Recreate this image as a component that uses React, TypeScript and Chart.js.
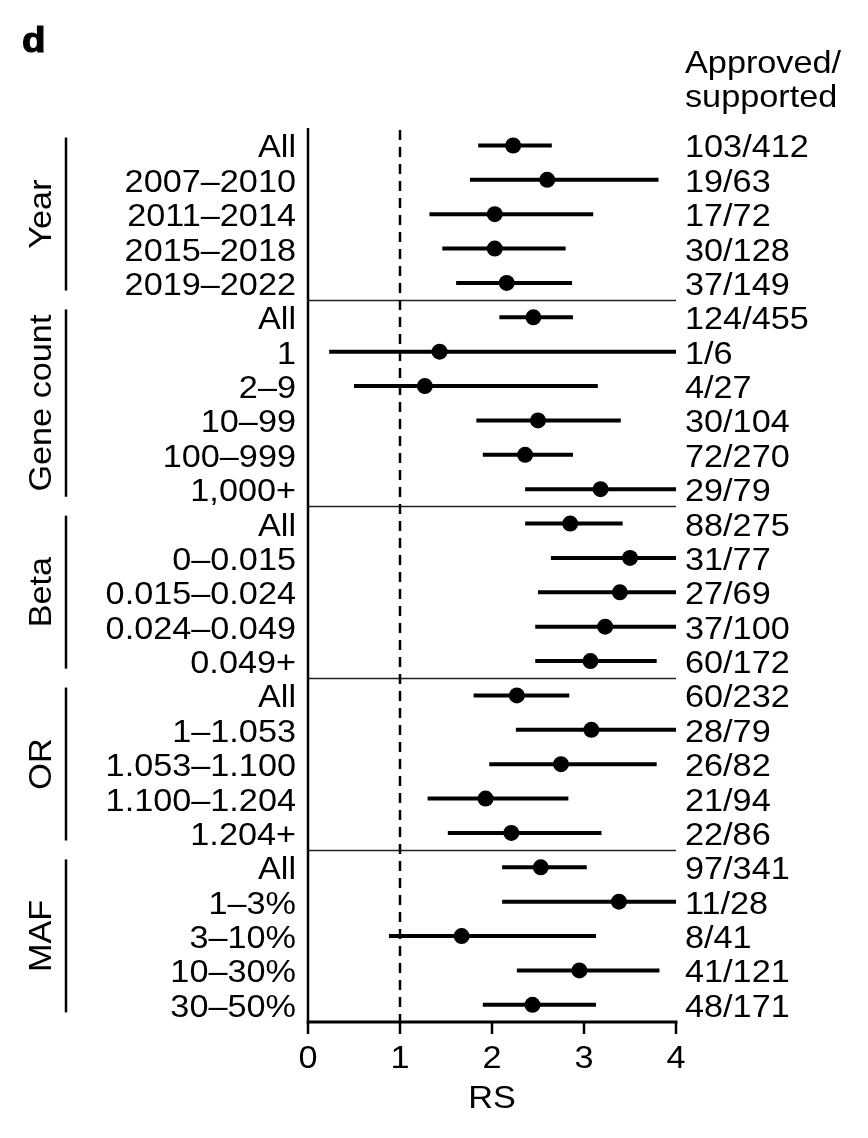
import React, { useEffect, useRef } from "react";
import { Chart, registerables } from "chart.js";

Chart.register(...registerables);

const groupNames = ["Year", "Gene count", "Beta", "OR", "MAF"];
const groupSizes = [5, 6, 5, 5, 5];

const rowLabels = [
  "All", "2007–2010", "2011–2014", "2015–2018", "2019–2022",
  "All", "1", "2–9", "10–99", "100–999", "1,000+",
  "All", "0–0.015", "0.015–0.024", "0.024–0.049", "0.049+",
  "All", "1–1.053", "1.053–1.100", "1.100–1.204", "1.204+",
  "All", "1–3%", "3–10%", "10–30%", "30–50%",
];

const counts = [
  "103/412", "19/63", "17/72", "30/128", "37/149",
  "124/455", "1/6", "4/27", "30/104", "72/270", "29/79",
  "88/275", "31/77", "27/69", "37/100", "60/172",
  "60/232", "28/79", "26/82", "21/94", "22/86",
  "97/341", "11/28", "8/41", "41/121", "48/171",
];

const rs = [
  2.23, 2.6, 2.03, 2.03, 2.16,
  2.45, 1.43, 1.27, 2.5, 2.36, 3.18,
  2.85, 3.5, 3.39, 3.23, 3.07,
  2.27, 3.08, 2.75, 1.93, 2.21,
  2.53, 3.38, 1.67, 2.95, 2.44,
];

const lower = [
  1.85, 1.76, 1.32, 1.46, 1.61,
  2.08, 0.23, 0.5, 1.83, 1.9, 2.36,
  2.36, 2.64, 2.5, 2.47, 2.47,
  1.8, 2.26, 1.97, 1.3, 1.52,
  2.11, 2.11, 0.88, 2.27, 1.9,
];

const upper = [
  2.65, 3.81, 3.1, 2.8, 2.87,
  2.88, 4.0, 3.15, 3.4, 2.88, 4.0,
  3.42, 4.0, 4.0, 4.0, 3.79,
  2.84, 4.0, 3.79, 2.83, 3.19,
  3.03, 4.0, 3.13, 3.82, 3.13,
];

const xTicks = [0, 1, 2, 3, 4];
const xTitle = "RS";
const rightHeader = ["Approved/", "supported"];
const panelLetter = "d";

const FONT = "'Liberation Sans', Arial, Helvetica, sans-serif";
const SX = 1.07;

function drawText(
  ctx: CanvasRenderingContext2D,
  s: string,
  x: number,
  y: number,
  align: CanvasTextAlign,
  rotate = 0
) {
  ctx.save();
  ctx.translate(x, y);
  if (rotate) ctx.rotate(rotate);
  ctx.scale(SX, 1);
  ctx.textAlign = align;
  ctx.textBaseline = "alphabetic";
  ctx.fillText(s, 0, 0);
  ctx.restore();
}

export default function App() {
  const ref = useRef<HTMLCanvasElement | null>(null);

  useEffect(() => {
    const canvas = ref.current;
    if (!canvas) return;
    const nRows = rowLabels.length;

    const ciSets = rowLabels.map((_, i) => ({
      type: "line" as const,
      data: [
        { x: lower[i], y: i },
        { x: upper[i], y: i },
      ],
      borderColor: "#000",
      borderWidth: 4,
      borderCapStyle: "butt" as const,
      pointRadius: 0,
      showLine: true,
      fill: false,
      clip: false as any,
      order: 2,
    }));

    const refLine = {
      type: "line" as const,
      data: [
        { x: 1, y: -0.45 },
        { x: 1, y: nRows - 0.5 },
      ],
      borderColor: "#000",
      borderWidth: 2.5,
      borderDash: [10, 7],
      pointRadius: 0,
      showLine: true,
      fill: false,
      clip: false as any,
      order: 3,
    };

    const pointSet = {
      type: "scatter" as const,
      data: rs.map((v, i) => ({ x: v, y: i })),
      backgroundColor: "#000",
      borderColor: "#000",
      borderWidth: 0,
      pointRadius: 8,
      clip: false as any,
      order: 1,
    };

    const decor = {
      id: "decor",
      beforeDatasetsDraw(chart: any) {
        const ctx = chart.ctx as CanvasRenderingContext2D;
        const xs = chart.scales.x;
        const ys = chart.scales.y;
        const x0 = xs.getPixelForValue(0);
        const x4 = xs.getPixelForValue(4);
        ctx.save();
        ctx.lineWidth = 1.4;
        ctx.strokeStyle = "#222";
        let start = 0;
        for (let g = 0; g < groupSizes.length - 1; g++) {
          start += groupSizes[g];
          const y = Math.round(ys.getPixelForValue(start - 0.5)) + 0.5;
          ctx.beginPath();
          ctx.moveTo(x0, y);
          ctx.lineTo(x4, y);
          ctx.stroke();
        }
        ctx.restore();
      },
      afterDraw(chart: any) {
        const ctx = chart.ctx as CanvasRenderingContext2D;
        const xs = chart.scales.x;
        const ys = chart.scales.y;
        const x0 = xs.getPixelForValue(0);
        const x4 = xs.getPixelForValue(4);
        const yTop = ys.getPixelForValue(-0.45) - 2;
        const yBot = ys.getPixelForValue(nRows - 0.5);
        ctx.save();
        ctx.strokeStyle = "#000";
        ctx.fillStyle = "#000";
        // y axis line
        ctx.lineWidth = 2.5;
        ctx.beginPath();
        ctx.moveTo(x0, yTop);
        ctx.lineTo(x0, yBot + 1.5);
        ctx.stroke();
        // x axis line
        ctx.lineWidth = 3;
        ctx.beginPath();
        ctx.moveTo(x0 - 1.25, yBot);
        ctx.lineTo(x4 + 1.5, yBot);
        ctx.stroke();
        // ticks
        ctx.lineWidth = 2.5;
        ctx.font = `32px ${FONT}`;
        xTicks.forEach((t) => {
          const px = xs.getPixelForValue(t);
          ctx.beginPath();
          ctx.moveTo(px, yBot);
          ctx.lineTo(px, yBot + 12);
          ctx.stroke();
          drawText(ctx, String(t), px, yBot + 46, "center");
        });
        drawText(ctx, xTitle, xs.getPixelForValue(2), yBot + 86, "center");

        // row labels & counts
        rowLabels.forEach((lab, i) => {
          const py = ys.getPixelForValue(i);
          drawText(ctx, lab, x0 - 12, py + 12, "right");
          drawText(ctx, counts[i], x4 + 9, py + 12, "left");
        });

        // header
        drawText(ctx, rightHeader[0], x4 + 9, 73, "left");
        drawText(ctx, rightHeader[1], x4 + 9, 107, "left");

        // group labels
        let s = 0;
        groupNames.forEach((name, g) => {
          const first = s;
          const last = s + groupSizes[g] - 1;
          s += groupSizes[g];
          const ya = ys.getPixelForValue(first - 0.23);
          const yb = ys.getPixelForValue(last + 0.22);
          ctx.lineWidth = 2.5;
          ctx.beginPath();
          ctx.moveTo(66, ya);
          ctx.lineTo(66, yb);
          ctx.stroke();
          drawText(ctx, name, 51, (ya + yb) / 2, "center", -Math.PI / 2);
        });

        // panel letter
        ctx.font = `bold 35px ${FONT}`;
        ctx.lineWidth = 1.2;
        ctx.save();
        ctx.translate(22, 52);
        ctx.scale(1.1, 1);
        ctx.textAlign = "left";
        ctx.fillText(panelLetter, 0, 0);
        ctx.strokeText(panelLetter, 0, 0);
        ctx.restore();
        ctx.restore();
      },
    };

    const chart = new Chart(canvas, {
      type: "scatter",
      data: { datasets: [pointSet, ...ciSets, refLine] as any },
      options: {
        animation: false,
        responsive: false,
        maintainAspectRatio: false,
        layout: { padding: { left: 308, right: 192, top: 130, bottom: 116 } },
        plugins: { legend: { display: false }, tooltip: { enabled: false } },
        scales: {
          x: { type: "linear", min: 0, max: 4, display: false },
          y: { type: "linear", min: -0.45, max: nRows - 0.5, reverse: true, display: false },
        },
      },
      plugins: [decor],
    });
    return () => chart.destroy();
  }, []);

  return (
    <div style={{ position: "absolute", left: 0, top: 0, width: 868, height: 1138, background: "#fff" }}>
      <canvas ref={ref} width={868} height={1138} style={{ width: 868, height: 1138 }} />
    </div>
  );
}
